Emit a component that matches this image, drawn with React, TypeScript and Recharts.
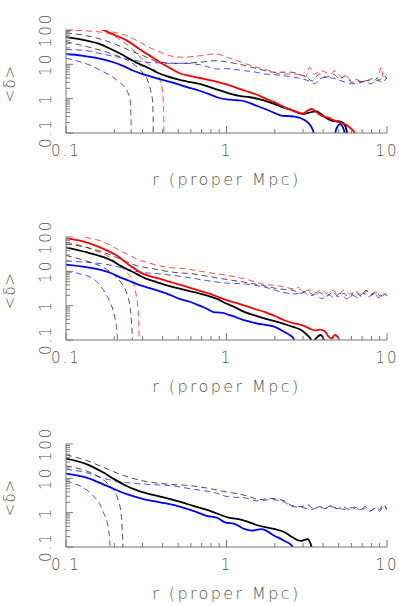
import React from 'react';
import { LineChart, Line, XAxis, YAxis } from 'recharts';

// ---------- tick labels / categories ----------
const xTickValues = [0.1, 0.2, 0.3, 0.4, 0.5, 0.6, 0.7, 0.8, 0.9, 1, 2, 3, 4, 5, 6, 7, 8, 9, 10];
const yTickValues = [0.1, 0.2, 0.3, 0.4, 0.5, 0.6, 0.7, 0.8, 0.9, 1, 2, 3, 4, 5, 6, 7, 8, 9, 10, 20, 30, 40, 50, 60, 70, 80, 90, 100];
const panelTitles = ['z=2', 'z=3', 'z=4'];
const xTitle = 'r (proper Mpc)';
const yTitle = '<δ>';

// ---------- z=2 ----------
const z2RedMeanR = [0.1, 0.13, 0.17, 0.2, 0.24, 0.28, 0.32, 0.36, 0.4, 0.45, 0.51, 0.6, 0.68, 0.83, 1.0, 1.3, 1.55, 1.75, 2.0, 2.3, 2.6, 3.0, 3.2, 3.4, 3.6, 3.9, 4.3, 4.7, 5.1, 5.5, 5.9, 6.3, 6.5];
const z2RedMean = [230, 160, 100, 72, 49, 30, 20, 14, 10.2, 7.5, 5.5, 4.5, 4.0, 3.3, 2.6, 1.7, 1.3, 1.0, 0.78, 0.56, 0.45, 0.37, 0.45, 0.5, 0.42, 0.32, 0.28, 0.23, 0.2, 0.18, 0.14, 0.1, 0.05];
const z2BlackMeanR = [0.1, 0.135, 0.16, 0.19, 0.22, 0.25, 0.29, 0.32, 0.37, 0.42, 0.49, 0.58, 0.68, 0.83, 1.0, 1.18, 1.4, 1.58, 1.9, 2.2, 2.6, 2.95, 3.2, 3.6, 3.9, 4.1, 4.5, 5.2, 5.5, 5.7];
const z2BlackMean = [62, 49, 40, 28, 20, 14.3, 10, 8.2, 5.8, 4.6, 3.7, 3.1, 2.7, 2.0, 1.5, 1.22, 1.1, 0.98, 0.75, 0.58, 0.45, 0.36, 0.38, 0.43, 0.35, 0.29, 0.23, 0.21, 0.16, 0.08];
const z2BlueMeanR = [0.1, 0.125, 0.148, 0.175, 0.197, 0.23, 0.263, 0.3, 0.35, 0.42, 0.49, 0.58, 0.68, 0.78, 0.87, 1.0, 1.15, 1.3, 1.5, 1.74, 2.0, 2.2, 2.45, 2.67, 2.9, 3.1, 3.35, 3.5, 3.55, 4.6, 4.8, 5.1, 5.4, 5.6];
const z2BlueMean = [20, 18, 16, 13.5, 11.5, 8.7, 6.5, 5.2, 4.2, 3.3, 2.7, 2.1, 1.7, 1.35, 1.1, 0.95, 0.9, 0.84, 0.65, 0.5, 0.38, 0.32, 0.31, 0.3, 0.27, 0.23, 0.16, 0.1, 0.01, 0.01, 0.12, 0.18, 0.12, 0.01];

const z2RedLowR = [0.1, 0.13, 0.16, 0.19, 0.22, 0.25, 0.28, 0.32, 0.36, 0.385, 0.398, 0.404, 0.407, 0.408];
const z2RedLow = [98, 95, 88, 75, 50, 32, 19, 11, 6.5, 3.5, 1.8, 0.8, 0.2, 0.001];
const z2RedHighR = [0.1, 0.17, 0.2, 0.24, 0.27, 0.3, 0.335, 0.37, 0.44, 0.54, 0.62, 0.7, 0.83, 0.95, 1.05, 1.18, 1.43, 1.65, 1.86, 2.2, 2.67, 2.9, 3.1, 3.3, 3.5, 3.9, 4.4, 4.75, 5.2, 5.6, 6.0, 6.5, 6.9, 7.4, 8.0, 8.8, 9.2, 9.5, 10];
const z2RedHigh = [300, 100, 85, 68, 52, 40, 30, 25, 18, 16, 17, 18, 20, 18, 15, 12.5, 9.1, 7.5, 6.5, 5.2, 5.2, 4.8, 4.2, 8.2, 5.2, 6.5, 5.2, 6.5, 4.2, 4.5, 3.3, 3.6, 3.0, 3.4, 3.3, 4.2, 8.2, 4.2, 5.2];
const z2BlackLowR = [0.1, 0.135, 0.188, 0.25, 0.28, 0.303, 0.322, 0.333, 0.341, 0.346, 0.349, 0.35];
const z2BlackLow = [45.6, 32.7, 21, 11.9, 8, 5.5, 3.5, 2.2, 1.3, 0.91, 0.3, 0.001];
const z2BlackHighR = [0.1, 0.135, 0.16, 0.188, 0.22, 0.25, 0.285, 0.318, 0.385, 0.49, 0.6, 0.684, 0.87, 1.03, 1.24, 1.58, 2.0, 2.54, 2.95, 3.1, 3.4, 3.8, 4.2, 4.6, 5.1, 5.5, 6.0, 6.6, 7.2, 8.0, 8.8, 9.6, 10];
const z2BlackHigh = [82, 68, 56, 44, 33, 25, 20, 16, 11.5, 10.7, 11, 11.5, 12.8, 11.5, 9.8, 7.3, 5.9, 5.9, 4.8, 4.6, 3.3, 5.2, 4.2, 5.2, 3.8, 4.6, 3.0, 3.3, 3.0, 3.8, 3.3, 4.6, 3.8];
const z2BlueLowR = [0.1, 0.122, 0.143, 0.163, 0.185, 0.207, 0.225, 0.239, 0.247, 0.251, 0.254, 0.256];
const z2BlueLow = [15, 11.9, 9.2, 6.8, 5, 3.5, 2.5, 1.8, 1.2, 0.9, 0.3, 0.001];
const z2BlueHighR = [0.1, 0.135, 0.16, 0.188, 0.215, 0.239, 0.27, 0.318, 0.38, 0.444, 0.56, 0.72, 0.87, 1.0, 1.15, 1.3, 1.5, 1.74, 2.0, 2.3, 2.65, 2.95, 3.3, 3.56, 3.8, 4.2, 4.75, 5.5, 6.0, 6.6, 7.2, 8.0, 8.6, 9.3, 10];
const z2BlueHigh = [27, 25, 21, 18, 16, 14.3, 13, 11.5, 11, 10.7, 10.7, 9.2, 7.3, 7.5, 7.0, 6.5, 6.0, 5.2, 5.0, 4.6, 4.2, 3.8, 3.2, 2.7, 3.8, 4.2, 3.8, 3.0, 2.7, 2.8, 3.2, 2.7, 3.8, 3.0, 4.2];

// ---------- z=3 ----------
const z3RedMeanR = [0.1, 0.122, 0.14, 0.163, 0.185, 0.207, 0.23, 0.25, 0.275, 0.303, 0.34, 0.386, 0.44, 0.49, 0.55, 0.62, 0.7, 0.79, 0.9, 1.0, 1.15, 1.3, 1.5, 1.74, 2.0, 2.31, 2.6, 2.94, 3.2, 3.56, 3.8, 4.1, 4.3, 4.5, 4.75, 4.95, 5.1];
const z3RedMean = [91, 78, 65, 50, 38, 29, 20, 14.7, 11, 8.4, 7.0, 6.0, 5.0, 4.3, 3.7, 3.1, 2.6, 2.2, 1.75, 1.45, 1.2, 1.0, 0.8, 0.65, 0.5, 0.37, 0.31, 0.27, 0.23, 0.19, 0.2, 0.18, 0.13, 0.11, 0.14, 0.12, 0.08];
const z3BlackMeanR = [0.1, 0.134, 0.171, 0.195, 0.217, 0.24, 0.263, 0.29, 0.318, 0.37, 0.424, 0.49, 0.565, 0.65, 0.75, 0.87, 0.98, 1.1, 1.3, 1.5, 1.74, 2.1, 2.3, 2.6, 2.95, 3.2, 3.35, 3.42, 3.6, 3.85, 4.05, 4.15];
const z3BlackMean = [50, 36, 26, 20, 14.7, 11.5, 9.4, 7.4, 6.0, 4.8, 3.9, 3.3, 2.8, 2.4, 2.0, 1.6, 1.2, 0.95, 0.65, 0.52, 0.42, 0.33, 0.29, 0.24, 0.19, 0.136, 0.105, 0.08, 0.11, 0.14, 0.1, 0.05];
const z3BlueMeanR = [0.1, 0.134, 0.171, 0.195, 0.217, 0.245, 0.275, 0.32, 0.386, 0.44, 0.51, 0.59, 0.68, 0.76, 0.83, 0.9, 0.95, 1.03, 1.12, 1.24, 1.4, 1.56, 1.8, 2.0, 2.3, 2.5, 2.6, 2.68];
const z3BlueMean = [15.7, 13.2, 10.5, 8.5, 6.7, 5.4, 4.3, 3.4, 2.6, 2.1, 1.58, 1.3, 1.0, 0.8, 0.65, 0.63, 0.62, 0.54, 0.48, 0.4, 0.34, 0.3, 0.27, 0.24, 0.17, 0.135, 0.115, 0.08];

const z3RedLowR = [0.1, 0.134, 0.157, 0.18, 0.2, 0.217, 0.235, 0.25, 0.262, 0.269, 0.275, 0.28, 0.283, 0.285, 0.286];
const z3RedLow = [70, 50, 38, 29, 20, 14.7, 10, 7.5, 5, 3.1, 1.8, 1.0, 0.45, 0.15, 0.001];
const z3RedHighR = [0.1, 0.128, 0.145, 0.163, 0.185, 0.207, 0.23, 0.25, 0.28, 0.318, 0.37, 0.424, 0.49, 0.565, 0.65, 0.75, 0.88, 1.03, 1.15, 1.3, 1.5, 1.67, 2.0, 2.3, 2.6, 2.8, 3.0, 3.3, 3.6, 3.9, 4.2, 4.6, 5.0, 5.4, 5.9, 6.4, 7.0, 7.5, 8.1, 8.7, 9.3, 10];
const z3RedHigh = [140, 100, 90, 78, 60, 45, 35, 29, 22, 18.4, 15, 13.2, 12.4, 11.8, 10.5, 9.4, 8.4, 7.5, 6.8, 6.0, 5.0, 4.3, 3.9, 3.5, 3.1, 3.4, 2.6, 2.9, 2.4, 3.0, 2.3, 2.8, 2.1, 2.9, 2.2, 2.6, 1.9, 2.7, 2.2, 2.5, 1.9, 2.6];
const z3BlackLowR = [0.1, 0.134, 0.171, 0.19, 0.207, 0.222, 0.233, 0.243, 0.25, 0.256, 0.259, 0.26];
const z3BlackLow = [29, 20, 13, 9.5, 6.7, 4.5, 3.1, 1.8, 1.0, 0.33, 0.11, 0.001];
const z3BlackHighR = [0.1, 0.134, 0.171, 0.217, 0.275, 0.35, 0.466, 0.62, 0.83, 1.03, 1.3, 1.67, 2.1, 2.6, 2.9, 3.2, 3.5, 3.8, 4.2, 4.6, 5.0, 5.4, 5.8, 6.3, 6.9, 7.4, 8.0, 8.5, 9.1, 9.6, 10];
const z3BlackHigh = [63, 50, 36, 23, 14.7, 11.8, 9.4, 8.4, 6.7, 5.7, 4.8, 3.9, 3.1, 2.8, 2.3, 2.7, 2.0, 2.4, 1.9, 2.5, 1.8, 2.3, 1.7, 2.6, 1.9, 2.8, 2.0, 2.6, 1.9, 2.4, 2.1];
const z3BlueLowR = [0.1, 0.122, 0.148, 0.163, 0.176, 0.188, 0.197, 0.202, 0.207, 0.209, 0.21];
const z3BlueLow = [9.8, 8.5, 6.0, 3.9, 2.3, 1.27, 0.7, 0.42, 0.2, 0.11, 0.001];
const z3BlueHighR = [0.1, 0.134, 0.171, 0.217, 0.29, 0.386, 0.565, 0.75, 1.03, 1.3, 1.74, 2.2, 2.7, 3.0, 3.3, 3.6, 3.9, 4.3, 4.7, 5.1, 5.6, 6.1, 6.6, 7.1, 7.7, 8.3, 8.9, 9.5, 10];
const z3BlueHigh = [20, 18.4, 16.4, 13.2, 9.4, 8.4, 6.7, 5.4, 4.5, 4.3, 3.45, 2.5, 2.2, 2.6, 1.9, 2.2, 1.6, 2.1, 1.7, 2.3, 1.6, 2.0, 1.7, 2.3, 1.8, 2.4, 1.7, 2.2, 1.9];

// ---------- z=4 ----------
const z4BlackMeanR = [0.1, 0.134, 0.171, 0.197, 0.239, 0.27, 0.303, 0.386, 0.49, 0.62, 0.79, 1.03, 1.24, 1.56, 2.0, 2.3, 2.5, 2.9, 3.05, 3.2, 3.35, 3.45];
const z4BlackMean = [37.5, 26, 14.7, 9.8, 6.0, 4.7, 3.9, 2.95, 2.2, 1.58, 1.13, 0.72, 0.62, 0.43, 0.33, 0.27, 0.21, 0.15, 0.16, 0.17, 0.12, 0.07];
const z4BlueMeanR = [0.1, 0.134, 0.18, 0.239, 0.303, 0.386, 0.49, 0.62, 0.75, 0.87, 0.98, 1.12, 1.3, 1.43, 1.65, 2.0, 2.3, 2.55, 2.62];
const z4BlueMean = [13.7, 10.5, 6.0, 3.45, 2.5, 2.0, 1.58, 1.13, 0.81, 0.72, 0.52, 0.47, 0.33, 0.3, 0.33, 0.21, 0.15, 0.11, 0.08];

const z4BlackLowR = [0.1, 0.134, 0.163, 0.188, 0.207, 0.215, 0.22, 0.224, 0.226, 0.227];
const z4BlackLow = [23, 16.4, 10.5, 6.0, 3.1, 1.8, 1.0, 0.33, 0.11, 0.001];
const z4BlackHighR = [0.1, 0.111, 0.135, 0.163, 0.217, 0.303, 0.445, 0.62, 0.83, 1.03, 1.2, 1.4, 1.6, 1.9, 2.3, 2.55, 2.9, 3.2, 3.5, 3.8, 4.1, 4.5, 4.9, 5.3, 5.8, 6.3, 6.8, 7.3, 7.9, 8.5, 9.0, 9.5, 10];
const z4BlackHigh = [48, 43, 33, 23, 13.2, 8.4, 6.7, 6.0, 4.8, 3.9, 3.5, 2.9, 2.4, 2.6, 2.2, 1.6, 1.5, 1.7, 1.3, 1.5, 1.35, 1.6, 1.3, 1.5, 1.25, 1.45, 1.2, 1.5, 1.15, 1.35, 1.1, 1.6, 1.2];
const z4BlueLowR = [0.1, 0.122, 0.148, 0.162, 0.171, 0.18, 0.184, 0.188, 0.189];
const z4BlueLow = [8.4, 6.0, 3.1, 1.8, 1.0, 0.55, 0.33, 0.11, 0.001];
const z4BlueHighR = [0.1, 0.134, 0.18, 0.239, 0.318, 0.466, 0.62, 0.83, 1.03, 1.3, 1.56, 1.9, 2.3, 2.6, 3.0, 3.4, 3.8, 4.1, 4.5, 4.9, 5.5, 6.0, 6.6, 7.2, 7.8, 8.4, 9.0, 9.4, 10];
const z4BlueHigh = [18.4, 14.7, 9.4, 7.5, 6.7, 6.0, 4.8, 3.9, 2.9, 2.7, 2.2, 2.4, 2.0, 1.5, 1.4, 1.25, 1.45, 1.3, 1.5, 1.35, 1.25, 1.4, 1.2, 1.3, 1.1, 1.35, 1.25, 1.7, 1.3];

// ---------- styling ----------
const RED = '#ff0000';
const BLUE = '#0000ff';
const BLACK = '#000000';
const FRAME = '#777777';
const TEXT = '#555555';
const FONT = "'DejaVu Sans', 'Liberation Sans', sans-serif";

const W = 399;
const H = 207;
const PLOT_L = 66;
const PLOT_R = 387;
const PLOT_T = 30;
const PLOT_B = 133;

const toPts = (r: number[], d: number[]) => r.map((x, i) => ({ x, y: d[i] }));

type Series = { r: number[]; d: number[]; color: string; dashed: boolean };

const panels: Series[][] = [
  [
    { r: z2RedLowR, d: z2RedLow, color: RED, dashed: true },
    { r: z2RedHighR, d: z2RedHigh, color: RED, dashed: true },
    { r: z2BlackLowR, d: z2BlackLow, color: BLACK, dashed: true },
    { r: z2BlackHighR, d: z2BlackHigh, color: BLACK, dashed: true },
    { r: z2BlueLowR, d: z2BlueLow, color: BLUE, dashed: true },
    { r: z2BlueHighR, d: z2BlueHigh, color: BLUE, dashed: true },
    { r: z2BlackMeanR, d: z2BlackMean, color: BLACK, dashed: false },
    { r: z2RedMeanR, d: z2RedMean, color: RED, dashed: false },
    { r: z2BlueMeanR, d: z2BlueMean, color: BLUE, dashed: false },
  ],
  [
    { r: z3RedLowR, d: z3RedLow, color: RED, dashed: true },
    { r: z3RedHighR, d: z3RedHigh, color: RED, dashed: true },
    { r: z3BlackLowR, d: z3BlackLow, color: BLACK, dashed: true },
    { r: z3BlackHighR, d: z3BlackHigh, color: BLACK, dashed: true },
    { r: z3BlueLowR, d: z3BlueLow, color: BLUE, dashed: true },
    { r: z3BlueHighR, d: z3BlueHigh, color: BLUE, dashed: true },
    { r: z3BlackMeanR, d: z3BlackMean, color: BLACK, dashed: false },
    { r: z3RedMeanR, d: z3RedMean, color: RED, dashed: false },
    { r: z3BlueMeanR, d: z3BlueMean, color: BLUE, dashed: false },
  ],
  [
    { r: z4BlackLowR, d: z4BlackLow, color: BLACK, dashed: true },
    { r: z4BlackHighR, d: z4BlackHigh, color: BLACK, dashed: true },
    { r: z4BlueLowR, d: z4BlueLow, color: BLUE, dashed: true },
    { r: z4BlueHighR, d: z4BlueHigh, color: BLUE, dashed: true },
    { r: z4BlackMeanR, d: z4BlackMean, color: BLACK, dashed: false },
    { r: z4BlueMeanR, d: z4BlueMean, color: BLUE, dashed: false },
  ],
];

const isMajor = (v: number) => Math.abs(Math.log10(v) - Math.round(Math.log10(v))) < 1e-6;
const fmt = (v: number) => (v < 1 ? '0.1' : String(v));

const XTickBottom = (props: any) => {
  const { x, payload } = props;
  const v = payload.value;
  const major = isMajor(v);
  return (
    <g>
      <line x1={x} x2={x} y1={PLOT_B} y2={PLOT_B - (major ? 7 : 4)} stroke={FRAME} strokeWidth={1} />
      {major && (
        <text x={x} y={PLOT_B + 23} textAnchor="middle" fill={TEXT} fontSize={15} fontFamily={FONT} fontWeight={300} letterSpacing={2}>
          {fmt(v)}
        </text>
      )}
    </g>
  );
};

const XTickTop = (props: any) => {
  const { x, payload } = props;
  const major = isMajor(payload.value);
  return <line x1={x} x2={x} y1={PLOT_T} y2={PLOT_T + (major ? 7 : 4)} stroke={FRAME} strokeWidth={1} />;
};

const YTickLeft = (props: any) => {
  const { y, payload } = props;
  const v = payload.value;
  const major = isMajor(v);
  const lx = PLOT_L - 20;
  return (
    <g>
      <line x1={PLOT_L} x2={PLOT_L + (major ? 7 : 4)} y1={y} y2={y} stroke={FRAME} strokeWidth={1} />
      {major && (
        <text x={lx} y={y} transform={`rotate(-90 ${lx} ${y})`} textAnchor="middle" dominantBaseline="central" fill={TEXT} fontSize={15} fontFamily={FONT} fontWeight={300} letterSpacing={2}>
          {fmt(v)}
        </text>
      )}
    </g>
  );
};

const YTickRight = (props: any) => {
  const { y, payload } = props;
  const major = isMajor(payload.value);
  return <line x1={PLOT_R} x2={PLOT_R - (major ? 7 : 4)} y1={y} y2={y} stroke={FRAME} strokeWidth={1} />;
};

const Panel = ({ title, series }: { title: string; series: Series[] }) => {
  const cx = (PLOT_L + PLOT_R) / 2;
  const cy = (PLOT_T + PLOT_B) / 2 + 2;
  return (
    <LineChart width={W} height={H} margin={{ top: PLOT_T, right: W - PLOT_R, bottom: H - PLOT_B - 40, left: 0 }}>
      <XAxis
        xAxisId="b"
        dataKey="x"
        type="number"
        scale="log"
        domain={[0.1, 10]}
        allowDataOverflow
        ticks={xTickValues}
        interval={0}
        tick={XTickBottom}
        tickLine={false}
        tickSize={0}
        tickMargin={0}
        height={40}
        axisLine={{ stroke: FRAME, strokeWidth: 1 }}
        label={() => (
          <text x={cx} y={PLOT_B + 52} textAnchor="middle" fill={TEXT} fontSize={16} fontFamily={FONT} fontWeight={300} letterSpacing={2.4}>
            {xTitle}
          </text>
        )}
      />
      <XAxis
        xAxisId="t"
        orientation="top"
        dataKey="x"
        type="number"
        scale="log"
        domain={[0.1, 10]}
        allowDataOverflow
        ticks={xTickValues}
        interval={0}
        tick={XTickTop}
        tickLine={false}
        tickSize={0}
        tickMargin={0}
        height={0}
        axisLine={{ stroke: FRAME, strokeWidth: 1 }}
        label={() => (
          <text x={cx} y={16} textAnchor="middle" fill={TEXT} fontSize={15} fontFamily={FONT} fontWeight={300} letterSpacing={3}>
            {title}
          </text>
        )}
      />
      <YAxis
        yAxisId="l"
        type="number"
        scale="log"
        domain={[0.1, 100]}
        allowDataOverflow
        ticks={yTickValues}
        interval={0}
        tick={YTickLeft}
        tickLine={false}
        tickSize={0}
        tickMargin={0}
        width={PLOT_L}
        axisLine={{ stroke: FRAME, strokeWidth: 1 }}
        label={() => (
          <text x={10} y={cy} transform={`rotate(-90 10 ${cy})`} textAnchor="middle" dominantBaseline="central" fill={TEXT} fontSize={15} fontFamily={FONT} fontWeight={300} letterSpacing={1}>
            {yTitle}
          </text>
        )}
      />
      <YAxis
        yAxisId="r"
        orientation="right"
        type="number"
        scale="log"
        domain={[0.1, 100]}
        allowDataOverflow
        ticks={yTickValues}
        interval={0}
        tick={YTickRight}
        tickLine={false}
        tickSize={0}
        tickMargin={0}
        width={0}
        axisLine={{ stroke: FRAME, strokeWidth: 1 }}
      />
      {series.map((s, i) => (
        <Line
          key={i}
          xAxisId="b"
          yAxisId="l"
          data={toPts(s.r, s.d)}
          dataKey="y"
          type="monotone"
          stroke={s.color}
          strokeWidth={s.dashed ? 1 : 1.8}
          strokeOpacity={s.dashed ? 0.7 : 1}
          strokeDasharray={s.dashed ? '6 4' : undefined}
          dot={false}
          activeDot={false}
          isAnimationActive={false}
        />
      ))}
    </LineChart>
  );
};

export default function App() {
  return (
    <div style={{ position: 'absolute', left: 0, top: 0, width: W, height: 605, overflow: 'hidden', background: '#fff' }}>
      {panelTitles.map((t, i) => (
        <div key={t} style={{ position: 'absolute', left: 0, top: i * H }}>
          <Panel title={t} series={panels[i]} />
        </div>
      ))}
    </div>
  );
}
